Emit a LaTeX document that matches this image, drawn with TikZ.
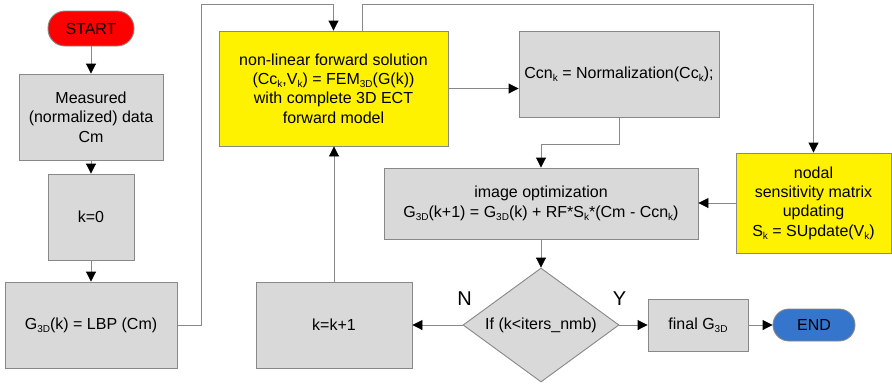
\documentclass[tikz,border=0pt]{standalone}
\usepackage{fontspec}
\setmainfont{Liberation Sans}
\usetikzlibrary{arrows.meta,shapes.geometric}
\definecolor{boxgray}{HTML}{D9D9D9}
\definecolor{edgegray}{HTML}{888888}
\definecolor{endblue}{HTML}{3575CC}
\newcommand{\subtx}[1]{\raisebox{-0.35ex}{\fontsize{10}{10}\selectfont #1}}
\begin{document}
\begin{tikzpicture}[x=1pt,y=-1pt,
  base/.style={draw=edgegray, line width=0.9pt, font=\fontsize{16}{19.3}\selectfont, align=center, inner sep=0pt, text=black},
  graybox/.style={base, rectangle, fill=boxgray},
  yellowbox/.style={base, rectangle, fill=yellow},
  terminal/.style={base, rectangle},
  decision/.style={base, diamond, fill=boxgray, aspect=1.37},
  conn/.style={draw=edgegray, line width=0.9pt, -{Triangle[width=10pt,length=10pt,color=black,fill=black]}},
  lbl/.style={font=\fontsize{20}{22}\selectfont, inner sep=0pt, text=black}
]
\path[fill=white, use as bounding box] (0,0) rectangle (892,384);

\node[terminal, fill=red, minimum width=86pt, minimum height=35pt, rounded corners=17pt] (start) at (91,28.5) {START};
\node[graybox, minimum width=144pt, minimum height=86pt] (meas) at (91,117) {Measured\\(normalized) data\\Cm};
\node[graybox, minimum width=86pt, minimum height=86pt] (k0) at (91,217) {k=0};
\node[graybox, minimum width=172pt, minimum height=86pt] (lbp) at (91,325) {G\subtx{3D}(k) = LBP (Cm)};
\node[yellowbox, minimum width=229pt, minimum height=115pt] (fwd) at (333.5,88.5) {non-linear forward solution\\(Cc\subtx{k},V\subtx{k}) = FEM\subtx{3D}(G(k))\\with complete 3D ECT\\forward model};
\node[graybox, minimum width=200pt, minimum height=86pt] (norm) at (619,74) {Ccn\subtx{k} = Normalization(Cc\subtx{k});};
\node[graybox, minimum width=314pt, minimum height=71pt] (opt) at (541,203.5) {image optimization\\G\subtx{3D}(k+1) = G\subtx{3D}(k) + RF*S\subtx{k}*(Cm - Ccn\subtx{k})};
\node[yellowbox, minimum width=155pt, minimum height=100pt] (sens) at (813.5,203) {nodal\\sensitivity matrix\\updating\\S\subtx{k} = SUpdate(V\subtx{k})};
\node[decision, minimum width=156pt, minimum height=114pt] (dec) at (541,325) {If (k<iters\_nmb)};
\node[graybox, minimum width=156pt, minimum height=86pt] (kinc) at (334,325) {k=k+1};
\node[graybox, minimum width=100pt, minimum height=52pt] (final) at (698,325) {final G\subtx{3D}};
\node[terminal, fill=endblue, minimum width=82pt, minimum height=32pt, rounded corners=16pt] (end) at (814,325) {END};
\node[lbl] (nlab) at (464.5,298.5) {N};
\node[lbl] (ylab) at (619.5,298.5) {Y};

\coordinate (topA) at (201,4);
\coordinate (topB) at (362,4);

\draw[conn] (start) -- (meas);
\draw[conn] (meas) -- (k0);
\draw[conn] (k0) -- (lbp);
\draw[conn] (lbp.east) -| (topA) -| (fwd.north);
\draw[conn] (fwd.north -| topB) -- (topB) -| (sens.north);
\draw[conn] (fwd.east) -- (fwd.east -| norm.west);
\draw[conn] (norm.south) -- ++(0,27) -| (opt.north);
\draw[conn] (sens.west) -- (sens.west -| opt.east);
\draw[conn] (opt.south) -- (dec.north);
\draw[conn] (dec.west) -- (kinc.east);
\draw[conn] (kinc.north) -- (kinc.north |- fwd.south);
\draw[conn] (dec.east) -- (final.west);
\draw[conn] (final.east) -- (end.west);
\end{tikzpicture}
\end{document}
